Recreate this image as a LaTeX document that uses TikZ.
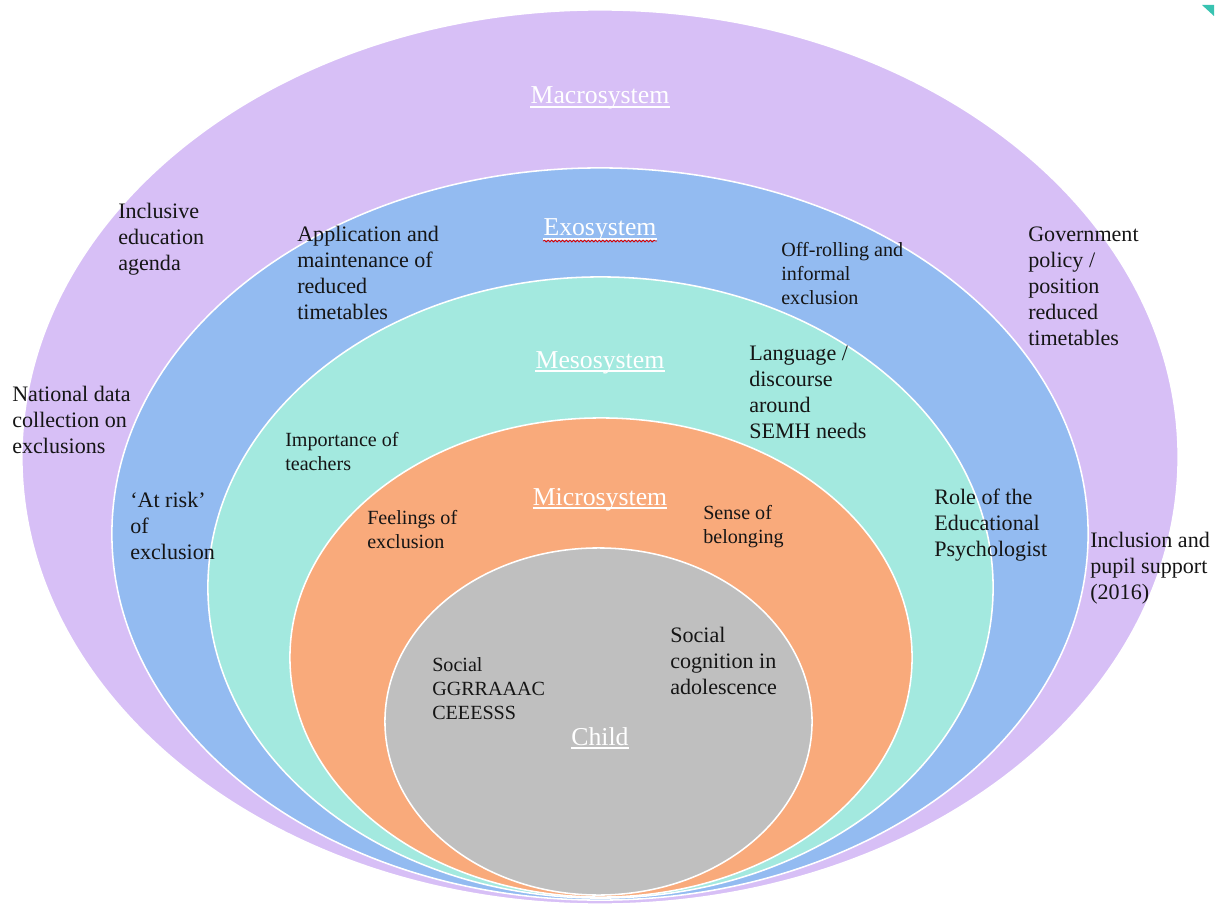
\documentclass[tikz,border=0pt]{standalone}
\usepackage{fontspec}
\setmainfont{Liberation Serif}
\usetikzlibrary{decorations.pathmorphing}

\definecolor{macrocol}{HTML}{D7BFF6}
\definecolor{exocol}{HTML}{93BBF1}
\definecolor{mesocol}{HTML}{A3E9DF}
\definecolor{microcol}{HTML}{F9AA7B}
\definecolor{childcol}{HTML}{BFBFBF}
\definecolor{inktext}{HTML}{151515}
\definecolor{tealmark}{HTML}{38C3B1}

\begin{document}
\begin{tikzpicture}[x=0.025cm, y=-0.025cm, line cap=round, line join=round,
  ring/.style={draw=white, line width=1.1pt},
  bigtxt/.style={anchor=north west, inner sep=0pt, align=left, text=inktext,
    font=\fontsize{15.7}{18.5}\selectfont, execute at begin node=\strut},
  smalltxt/.style={anchor=north west, inner sep=0pt, align=left, text=inktext,
    font=\fontsize{14.3}{17.2}\selectfont, execute at begin node=\strut},
  syslabel/.style={anchor=base, inner sep=0pt, text=white,
    font=\fontsize{18.3}{22}\selectfont}]

  \useasboundingbox (0,0) rectangle (1224,906);

  % ── Nested systems ──────────────────────────────────────────────────────────

  \filldraw[ring, fill=macrocol] (600,457) ellipse [x radius=14.45cm, y radius=11.175cm];
  \filldraw[ring, fill=exocol]   (600,534) ellipse [x radius=12.2cm, y radius=9.15cm];
  \filldraw[ring, fill=mesocol]  (600.5,587.5) ellipse [x radius=9.8125cm, y radius=7.7625cm];
  \filldraw[ring, fill=microcol] (601,657.5) ellipse [x radius=7.775cm, y radius=5.9875cm];
  \filldraw[ring, fill=childcol] (598.5,721.5) ellipse [x radius=5.3375cm, y radius=4.3375cm];

  % corner mark
  \fill[tealmark] (1202,5) -- (1214,5) -- (1214,16) -- cycle;

  % ── System names ────────────────────────────────────────────────────────────

  \node[syslabel] (macro) at (600,104) {Macrosystem};
  \node[syslabel] (exo)   at (600,236) {Exosystem};
  \node[syslabel] (meso)  at (600,368) {Mesosystem};
  \node[syslabel] (micro) at (600,505) {Microsystem};
  \node[syslabel] (child) at (600,745) {Child};

  \foreach \nm in {macro,exo,meso,micro,child}
    \draw[white, line width=0.9pt, line cap=butt]
      ([yshift=-2.1pt]\nm.base west) -- ([yshift=-2.1pt]\nm.base east);

  % spell-check mark
  \draw[red!85!black, line width=0.6pt, decorate,
        decoration={snake, amplitude=0.7pt, segment length=2.6pt}]
    ([yshift=-3.6pt]exo.base west) -- ([yshift=-3.6pt]exo.base east);

  % ── Macrosystem ─────────────────────────────────────────────────────────────

  \node[bigtxt] (agenda)   at (118,203) {Inclusive\\education\\agenda};
  \node[bigtxt] (natdata)  at (12,386)  {National data\\collection on\\exclusions};
  \node[bigtxt] (govpol)   at (1028,227) {Government\\policy /\\position\\reduced\\timetables};
  \node[bigtxt] (pupilsup) at (1090,532) {Inclusion and\\pupil support\\(2016)};

  % ── Exosystem ───────────────────────────────────────────────────────────────

  \node[bigtxt]   (timetab) at (297,226) {Application and\\maintenance of\\reduced\\timetables};
  \node[smalltxt] (offroll) at (781,242) {Off-rolling and\\informal\\exclusion};
  \node[bigtxt]   (atrisk)  at (130,492) {‘At risk’\\of\\exclusion};
  \node[bigtxt]   (edpsych) at (934,489) {Role of the\\Educational\\Psychologist};

  % ── Mesosystem ──────────────────────────────────────────────────────────────

  \node[bigtxt]   (discourse) at (749,346) {Language /\\discourse\\around\\SEMH needs};
  \node[smalltxt] (teachers)  at (285,432) {Importance of\\teachers};

  % ── Microsystem ─────────────────────────────────────────────────────────────

  \node[smalltxt] (feelings) at (367,510) {Feelings of\\exclusion};
  \node[smalltxt] (belong)   at (703,505) {Sense of\\belonging};

  % ── Child ───────────────────────────────────────────────────────────────────

  \node[smalltxt] (graces)  at (432,657) {Social\\GGRRAAAC\\CEEESSS};
  \node[bigtxt]   (cognit)  at (670,627) {Social\\cognition in\\adolescence};

\end{tikzpicture}
\end{document}
